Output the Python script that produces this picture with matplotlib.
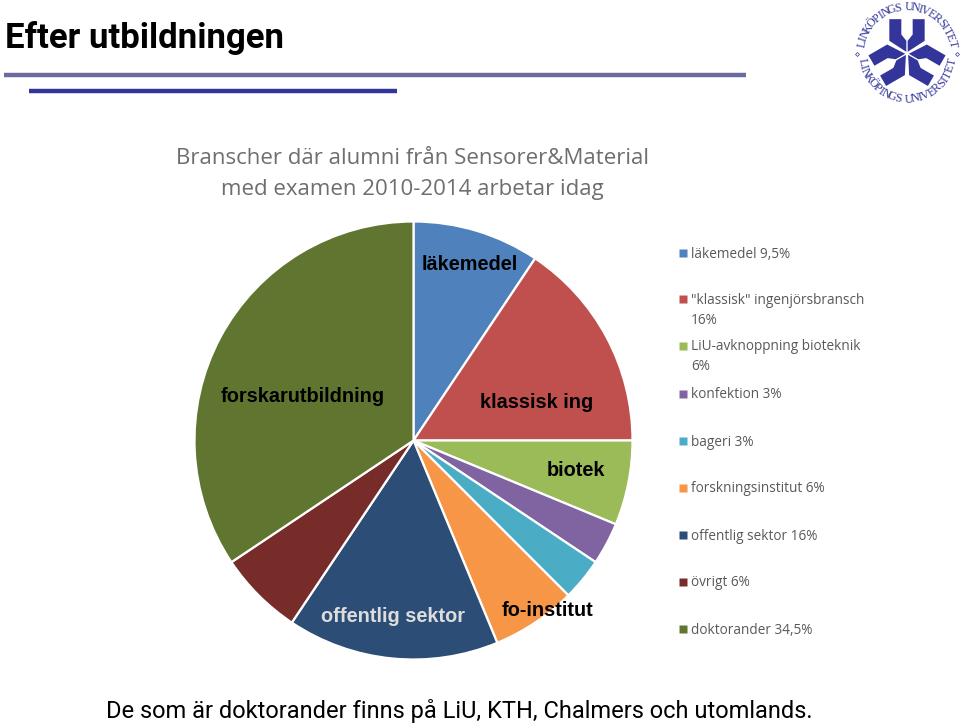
import numpy as np
import matplotlib
matplotlib.use('Agg')
import matplotlib.pyplot as plt
from matplotlib.patches import Polygon

W, H = 960, 727

# the slices are drawn from the answer counts, the legend rounds them
labels = ['läkemedel', 'klassisk', 'biotek', 'konfektion', 'bageri', 'forskningsinstitut',
          'offentlig sektor', 'övrigt', 'doktorander']
values = [3, 5, 2, 1, 1, 2, 5, 2, 11]
colors = ['#4F81BD', '#C0504D', '#9BBB59', '#8064A2', '#4BACC6', '#F79646', '#2C4D75', '#772C2A', '#5F7530']

legend_texts = ['läkemedel 9,5%', '"klassisk" ingenjörsbransch\n16%', 'LiU-avknoppning bioteknik\n6%',
                'konfektion 3%', 'bageri 3%', 'forskningsinstitut 6%', 'offentlig sektor 16%',
                'övrigt 6%', 'doktorander 34,5%']
legend_y = [253, 299, 346, 394, 441, 488, 535, 582, 629]

pie_labels = ['läkemedel', 'klassisk ing', 'biotek', 'fo-institut', 'offentlig sektor', 'forskarutbildning']
pie_label_x = [470, 537, 576, 548, 393, 303]
pie_label_y = [264, 403, 470, 611, 616, 396]
pie_label_colors = ['black', 'black', 'black', 'black', '#DDDDDD', 'black']

narrow = 'Roboto'
calibri = 'Open Sans'

fig = plt.figure(figsize=(W / 100, H / 100), dpi=100, facecolor='white')

# overlay in pixel coordinates, for the slide decoration
bg = fig.add_axes([0, 0, 1, 1])
bg.set_xlim(0, W)
bg.set_ylim(H, 0)
bg.axis('off')

bg.text(5, 38, 'Efter utbildningen', family=narrow, fontsize=25, fontweight='bold', va='center', color='black')
bg.plot([4, 746], [74.5, 74.5], color='#6A6C9E', lw=3.2, solid_capstyle='butt')
bg.plot([29, 397], [91, 91], color='#33359A', lw=3.2, solid_capstyle='butt')

bg.text(412.5, 159, 'Branscher där alumni från Sensorer&Material', family=calibri, fontsize=16,
        color='#6E6E6E', ha='center', va='center')
bg.text(412.5, 190, 'med examen 2010-2014 arbetar idag', family=calibri, fontsize=16,
        color='#6E6E6E', ha='center', va='center')

# pie
cx, cy, r = 413.5, 440.5, 219
pie_ax = fig.add_axes([(cx - r) / W, 1 - (cy + r) / H, 2 * r / W, 2 * r / H])
pie_ax.pie(values, colors=colors, startangle=90, counterclock=False, radius=1,
           wedgeprops=dict(edgecolor='white', linewidth=1.6))
pie_ax.set_xlim(-1, 1)
pie_ax.set_ylim(-1, 1)
for e in pie_ax.patches:
    e.set_clip_on(False)

# text above the pie
top = fig.add_axes([0, 0, 1, 1])
top.set_xlim(0, W)
top.set_ylim(H, 0)
top.axis('off')
top.patch.set_alpha(0)

for t, x, y, c in zip(pie_labels, pie_label_x, pie_label_y, pie_label_colors):
    top.text(x, y, t, family='Liberation Sans', fontsize=14.3, fontweight='bold', color=c,
             ha='center', va='center')

for y, t, c in zip(legend_y, legend_texts, colors):
    top.plot([682.5], [y], marker='s', ms=5.2, color=c, mec='none')
    for i, p in enumerate(t.split('\n')):
        top.text(691, y + 1 + i * 20, p, family=calibri, fontsize=9.85, color='#595959', va='center')

top.text(459.5, 711, 'De som är doktorander finns på LiU, KTH, Chalmers och utomlands.', family=narrow,
         fontsize=17, color='black', ha='center', va='center')

# logo
lx, ly, s = 907, 53.5, 1 / 3
arm_l = np.array([[-53, -103], [-17, -103], [-17, -57], [-2, -38], [-2, -5], [-53, -38]]) * s
arm_r = arm_l * np.array([-1, 1])
for ang in [0, 120, 240]:
    a = np.radians(ang)
    rot = np.array([[np.cos(a), -np.sin(a)], [np.sin(a), np.cos(a)]])
    for arm in (arm_l, arm_r):
        pts = arm @ rot.T + [lx, ly]
        top.add_patch(Polygon(pts, closed=True, fc='#33359A', ec='none'))

word = 'LINKÖPINGS UNIVERSITET'
widths = np.array([{'I': 0.55, ' ': 0.6}.get(ch, 1.0) for ch in word])
steps = np.cumsum(widths) - widths / 2
steps = (steps - steps[0]) / (steps[-1] - steps[0])
ang_top = 168 - 156 * steps
ang_bot = 191 + 158 * steps
for ch, a in zip(word, ang_top):
    x = lx + 46 * np.cos(np.radians(a))
    y = ly - 46 * np.sin(np.radians(a))
    top.text(x, y, ch, family='Liberation Serif', fontsize=8.6, color='#33359A', ha='center', va='center',
             rotation=a - 90)
for ch, a in zip(word, ang_bot):
    x = lx + 46 * np.cos(np.radians(a))
    y = ly - 46 * np.sin(np.radians(a))
    top.text(x, y, ch, family='Liberation Serif', fontsize=8.6, color='#33359A', ha='center', va='center',
             rotation=a - 270)
top.plot([lx - 50, lx + 50], [ly, ly], ls='none', marker='D', ms=2, mfc='none', mec='#33359A', mew=0.5)

fig.savefig('out.png', dpi=100, facecolor='white')
